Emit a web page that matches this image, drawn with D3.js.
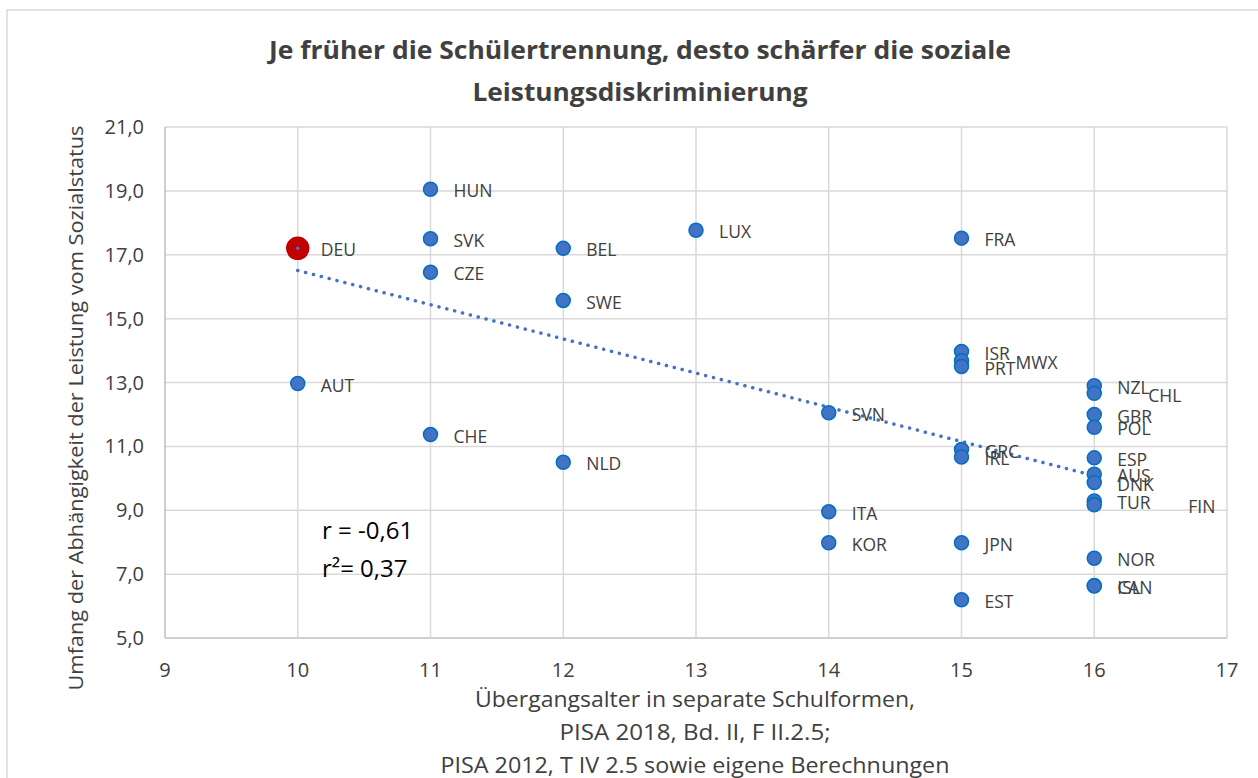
<!DOCTYPE html>
<html>
<head>
<meta charset="utf-8">
<script src="https://cdn.jsdelivr.net/npm/d3@7"></script>
<style>
  body { margin: 0; background: #fff; }
  svg text { font-family: "Open Sans", "Noto Sans", sans-serif; fill: #404040; }
</style>
</head>
<body>
<svg id="chart" width="1258" height="778"></svg>
<script>
// country codes, age of tracking, dependence of performance on social status
var countries = ["DEU","AUT","HUN","SVK","CZE","CHE","BEL","SWE","NLD","LUX",
  "SVN","ITA","KOR","FRA","ISR","MWX","PRT","GRC","IRL","JPN","EST",
  "NZL","CHL","GBR","POL","ESP","AUS","DNK","TUR","FIN","NOR","ISL","CAN"];
var ages = [10,10,11,11,11,11,12,12,12,13,
  14,14,14,15,15,15,15,15,15,15,15,
  16,16,16,16,16,16,16,16,16,16,16,16];
var values = [17.2,12.97,19.05,17.5,16.45,11.37,17.2,15.57,10.5,17.77,
  12.05,8.95,7.98,17.52,13.97,13.68,13.5,10.9,10.67,7.98,6.2,
  12.9,12.66,12.0,11.6,10.64,10.13,9.87,9.29,9.17,7.5,6.64,6.63];

var xTicks = [9,10,11,12,13,14,15,16,17];
var yTicks = [5,7,9,11,13,15,17,19,21];

var titleLines = ["Je früher die Schülertrennung, desto schärfer die soziale", "Leistungsdiskriminierung"];
var xTitleLines = ["Übergangsalter in separate Schulformen,", "PISA 2018, Bd. II, F II.2.5;", "PISA 2012, T IV 2.5 sowie eigene Berechnungen"];
var yTitle = "Umfang der Abhängigkeit der Leistung vom Sozialstatus";
var statsLines = ["r = -0,61", "r²= 0,37"];

var highlight = "DEU";
// labels moved by hand in the original
var labelShift = { "MWX": [31, 0], "CHL": [31, 1], "FIN": [71, 0] };

var margin = { top: 127, right: 32, bottom: 140, left: 165 };
var width = 1258, height = 778;

var svg = d3.select("#chart");

// outer frame
svg.append("rect")
  .attr("x", 7).attr("y", 10)
  .attr("width", 1270).attr("height", 790)
  .attr("fill", "none").attr("stroke", "#d9d9d9").attr("stroke-width", 1.5);

var x = d3.scaleLinear().domain([9, 17]).range([margin.left, width - margin.right + 1]);
var y = d3.scaleLinear().domain([5, 21]).range([height - margin.bottom, margin.top]);

// gridlines
var grid = svg.append("g");
grid.selectAll("line.h").data(yTicks).join("line")
  .attr("x1", x(9)).attr("x2", x(17))
  .attr("y1", function (d) { return y(d); }).attr("y2", function (d) { return y(d); })
  .attr("stroke", function (d) { return d === 5 ? "#bfbfbf" : "#d9d9d9"; })
  .attr("stroke-width", 1.5);
grid.selectAll("line.v").data(xTicks).join("line")
  .attr("y1", y(5)).attr("y2", y(21))
  .attr("x1", function (d) { return x(d); }).attr("x2", function (d) { return x(d); })
  .attr("stroke", function (d) { return d === 9 ? "#bfbfbf" : "#d9d9d9"; })
  .attr("stroke-width", 1.5);

// tick labels
var fmt = function (d) { return d3.format(".1f")(d).replace(".", ","); };
svg.append("g").selectAll("text").data(yTicks).join("text")
  .attr("x", x(9) - 21).attr("y", function (d) { return y(d); })
  .attr("dy", "0.35em").attr("text-anchor", "end")
  .style("font-size", "20px")
  .text(fmt);
svg.append("g").selectAll("text").data(xTicks).join("text")
  .attr("x", function (d) { return x(d); }).attr("y", y(5) + 32)
  .attr("dy", "0.35em").attr("text-anchor", "middle")
  .style("font-size", "20px")
  .text(function (d) { return d; });

// title
svg.append("g").selectAll("text").data(titleLines).join("text")
  .attr("x", 640).attr("y", function (d, i) { return 50 + i * 42; })
  .attr("dy", "0.35em").attr("text-anchor", "middle")
  .style("font-size", "25px").style("font-weight", "bold")
  .attr("textLength", function (d, i) { return i === 0 ? 742 : 335; })
  .attr("lengthAdjust", "spacingAndGlyphs")
  .text(function (d) { return d; });

// axis titles
svg.append("g").selectAll("text").data(xTitleLines).join("text")
  .attr("x", 695).attr("y", function (d, i) { return 700 + i * 33; })
  .attr("dy", "0.35em").attr("text-anchor", "middle")
  .style("font-size", "21px")
  .attr("textLength", function (d, i) { return [440, 271, 509][i]; })
  .attr("lengthAdjust", "spacingAndGlyphs")
  .text(function (d) { return d; });

svg.append("text")
  .attr("transform", "translate(76," + 408 + ") rotate(-90)")
  .attr("dy", "0.35em").attr("text-anchor", "middle")
  .style("font-size", "20px")
  .attr("textLength", 565).attr("lengthAdjust", "spacingAndGlyphs")
  .text(yTitle);

// linear trend, least squares
var n = ages.length;
var mx = d3.mean(ages), my = d3.mean(values);
var sxy = 0, sxx = 0;
for (var i = 0; i < n; i++) {
  sxy += (ages[i] - mx) * (values[i] - my);
  sxx += (ages[i] - mx) * (ages[i] - mx);
}
var slope = sxy / sxx, intercept = my - slope * mx;
var xr = d3.extent(ages);
svg.append("line")
  .attr("x1", x(xr[0])).attr("y1", y(intercept + slope * xr[0]))
  .attr("x2", x(xr[1])).attr("y2", y(intercept + slope * xr[1]))
  .attr("stroke", "#4472C4").attr("stroke-width", 3.5)
  .attr("stroke-linecap", "round").attr("stroke-dasharray", "0.1 8");

// points
var pts = countries.map(function (c, i) { return { c: c, x: ages[i], y: values[i] }; });
svg.append("g").selectAll("circle").data(pts).join("circle")
  .attr("cx", function (d) { return x(d.x); })
  .attr("cy", function (d) { return y(d.y); })
  .attr("r", function (d) { return d.c === highlight ? 11 : 7; })
  .attr("fill", function (d) { return d.c === highlight ? "#C00000" : "#4472C4"; })
  .attr("stroke", function (d) { return d.c === highlight ? "#C00000" : "#0070C0"; })
  .attr("stroke-width", 1.5);
svg.append("circle")
  .attr("cx", x(ages[countries.indexOf(highlight)]))
  .attr("cy", y(values[countries.indexOf(highlight)]))
  .attr("r", 1.8).attr("fill", "#4472C4");

// point labels
svg.append("g").selectAll("text").data(pts).join("text")
  .attr("x", function (d) { return x(d.x) + 23 + (labelShift[d.c] ? labelShift[d.c][0] : 0); })
  .attr("y", function (d) { return y(d.y) + 2 + (labelShift[d.c] ? labelShift[d.c][1] : 0); })
  .attr("dy", "0.35em")
  .style("font-size", "17.5px")
  .text(function (d) { return d.c; });

// correlation note
svg.append("g").selectAll("text").data(statsLines).join("text")
  .attr("x", 322).attr("y", function (d, i) { return 531 + i * 38; })
  .attr("dy", "0.35em")
  .style("font-size", "24px").style("fill", "#000")
  .text(function (d) { return d; });
</script>
</body>
</html>
